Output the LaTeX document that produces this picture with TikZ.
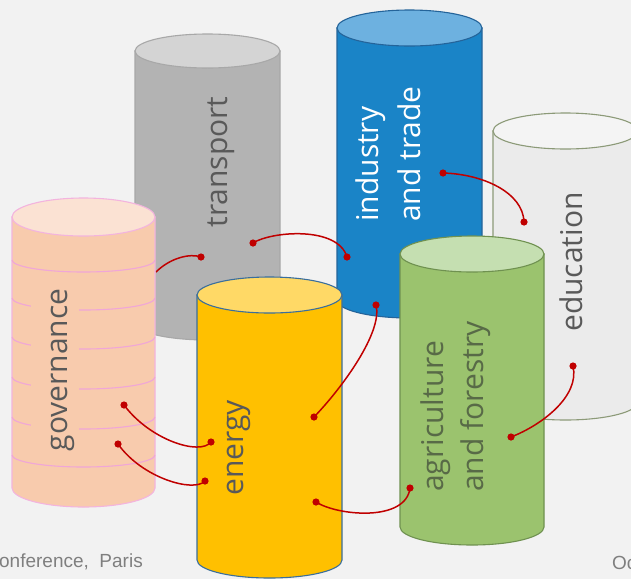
\documentclass[tikz,border=0pt]{standalone}
\usepackage{fontspec}
\setmainfont{Open Sans}
\newfontfamily\footfont{Liberation Sans}
\definecolor{bg}{HTML}{F2F2F2}
\definecolor{trbody}{HTML}{B3B3B3}\definecolor{trtop}{HTML}{D4D4D4}\definecolor{trline}{HTML}{A8A8A8}
\definecolor{inbody}{HTML}{1A84C7}\definecolor{intop}{HTML}{6DB1E0}\definecolor{inline}{HTML}{24649A}
\definecolor{edbody}{HTML}{EBEBEB}\definecolor{edtop}{HTML}{F4F4F4}\definecolor{edline}{HTML}{8C9A78}
\definecolor{gobody}{HTML}{F8CBAD}\definecolor{gotop}{HTML}{FBE2D3}\definecolor{goline}{HTML}{F3B4DE}\definecolor{gostripe}{HTML}{F0A6D8}
\definecolor{enbody}{HTML}{FFC000}\definecolor{entop}{HTML}{FFD966}\definecolor{enline}{HTML}{3A6E9C}
\definecolor{agbody}{HTML}{9BC36E}\definecolor{agtop}{HTML}{C5DFB1}\definecolor{agline}{HTML}{6F9150}
\definecolor{txt}{HTML}{595959}\definecolor{agtxt}{HTML}{586A47}\definecolor{cred}{HTML}{C00000}\definecolor{foot}{HTML}{7F7F7F}
\newcommand\mycyl[9]{%
  \pgfmathsetmacro\rxx{(#3-#2)/2}%
  \pgfmathsetmacro\xcc{(#2+#3)/2}%
  \path[fill=#7,draw=#9,cylline] (#2,#4) -- (#2,#5) arc[start angle=180,end angle=0,x radius=\rxx,y radius=#6] -- (#3,#4) -- cycle;
  \path[fill=#8,draw=#9,cylline] (\xcc,#4) ellipse[x radius=\rxx,y radius=#6];
  \coordinate (#1) at (\xcc,{(#4+#5)/2});
}
\tikzset{
  cylline/.style={line width=1.1pt},
  conn/.style={draw=cred,line width=1.5pt},
  lbl/.style={rotate=90,anchor=base,text=txt,font=\fontsize{30}{36}\selectfont,inner sep=0pt},
  lblw/.style={rotate=90,anchor=base west,font=\fontsize{30}{36}\selectfont,inner sep=0pt},
  stripe/.style={draw=gostripe,line width=1.1pt},
  foottxt/.style={text=foot,font=\footfont\fontsize{19}{22}\selectfont,inner sep=0pt}
}
\newcommand\rdot[1]{\fill[cred] (#1) circle[radius=3.6];}
\begin{document}
\begin{tikzpicture}[x=1pt,y=-1pt]
\fill[bg] (0,0) rectangle (631,579);
\useasboundingbox (0,0) rectangle (631,579);
% back row
\mycyl{transport}{135}{280}{51}{323}{17}{trbody}{trtop}{trline}
\mycyl{industry}{337}{482}{28}{300}{18}{inbody}{intop}{inline}
\mycyl{education}{493}{638}{131}{402}{18}{edbody}{edtop}{edline}
\node[lbl] (ltransport) at (227,162) {transport};
\node[lblw,text=white] (lindustry1) at (378,222) {industry};
\node[lblw,text=white] (lindustry2) at (420,222) {and trade};
\node[lbl] (leducation) at (582,262) {education};
% connector behind governance
\coordinate (g0) at (156,272);
\coordinate (t1) at (201,257);
\draw[conn] (g0) .. controls (170,258) and (190,253) .. (t1);
% governance
\mycyl{governance}{12}{155}{217}{488}{19}{gobody}{gotop}{goline}
\foreach \yy in {260,298,337,377,417,455}
  \draw[stripe] (12,\yy) arc[start angle=180,end angle=0,x radius=71.5,y radius=12];
\node[lbl,fill=gobody,text height=34pt,text depth=10pt,inner ysep=2pt,inner xsep=2pt] (lgovernance) at (67,370) {governance};
% energy
\mycyl{energy}{197}{342}{295}{560}{18}{enbody}{entop}{enline}
\node[lbl] (lenergy) at (243,448) {energy};
% agriculture
\mycyl{agriculture}{400}{544}{254}{527}{18}{agbody}{agtop}{agline}
\node[lblw,text=agtxt] (lagri1) at (443,492) {agriculture};
\node[lblw,text=agtxt] (lagri2) at (483,492) {and forestry};
% connectors
\coordinate (t2) at (253,243);
\coordinate (i1) at (347,257);
\coordinate (i2) at (443,173);
\coordinate (e1) at (524,222);
\coordinate (i3) at (376,305);
\coordinate (n1) at (314,417);
\coordinate (gv1) at (124,405);
\coordinate (n2) at (211,442);
\coordinate (gv2) at (118,444);
\coordinate (n3) at (205,481);
\coordinate (n4) at (316,502);
\coordinate (a1) at (410,488);
\coordinate (e2) at (573,366);
\coordinate (a2) at (511,437);
\draw[conn] (t2) .. controls (272,231) and (338,226) .. (i1);
\draw[conn] (i2) .. controls (482,174) and (523,192) .. (e1);
\draw[conn] (i3) .. controls (383,332) and (342,388) .. (n1);
\draw[conn] (gv1) .. controls (150,440) and (200,456) .. (n2);
\draw[conn] (gv2) .. controls (142,478) and (194,493) .. (n3);
\draw[conn] (n4) .. controls (338,516) and (406,522) .. (a1);
\draw[conn] (e2) .. controls (580,396) and (542,425) .. (a2);
\foreach \p in {t1,t2,i1,i2,e1,i3,n1,gv1,n2,gv2,n3,n4,a1,e2,a2} {\rdot{\p}}
% footer
\node[foottxt,anchor=base east] (fleft) at (143,567) {onference,\ \ Paris};
\node[foottxt,anchor=base west] (fright) at (612,569) {Oc};
\end{tikzpicture}
\end{document}
